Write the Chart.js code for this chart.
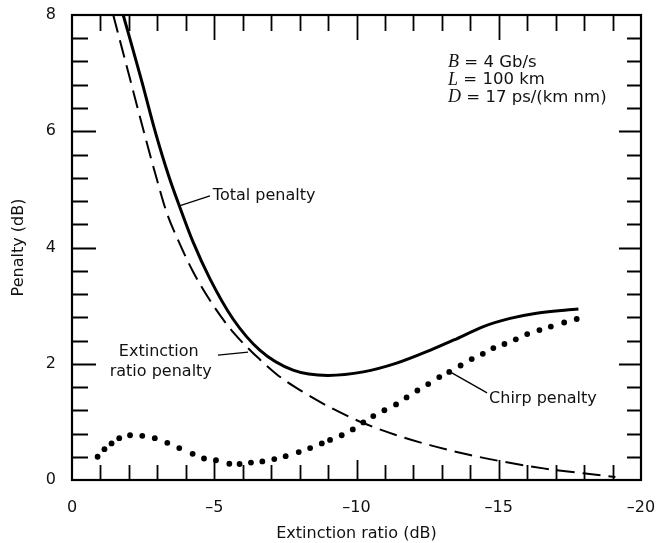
<!DOCTYPE html>
<html>
<head>
<meta charset="utf-8">
<script src="https://cdn.jsdelivr.net/npm/chart.js@4.4.1/dist/chart.umd.min.js"></script>
<style>
html,body{margin:0;padding:0;background:#fff;}
#wrap{width:659px;height:543px;position:relative;}
</style>
</head>
<body>
<div id="wrap"><canvas id="c" width="659" height="543"></canvas></div>
<script>
// ---- Data ----
const totalX = [-1.8, -2.43, -2.91, -3.4, -3.8, -4.25, -4.85, -5.66, -6.61, -7.77, -9.0, -10.24, -11.41, -12.58, -13.52, -14.46, -15.4, -16.33, -17.8];
const totalY = [8.0, 6.90, 6.02, 5.23, 4.68, 4.10, 3.46, 2.77, 2.23, 1.89, 1.80, 1.86, 2.01, 2.23, 2.43, 2.64, 2.78, 2.87, 2.94];

const extX = [-1.45, -2.05, -2.51, -2.99, -3.33, -3.80, -4.26, -4.97, -5.67, -6.61, -7.19, -8.1, -9.07, -10.24, -11.41, -12.58, -13.99, -15.16, -16.57, -17.97, -19.1];
const extY = [8.0, 6.88, 6.02, 5.16, 4.60, 4.05, 3.58, 3.00, 2.54, 2.07, 1.82, 1.52, 1.25, 0.98, 0.77, 0.60, 0.43, 0.315, 0.20, 0.115, 0.05];

const chirpX = [-0.90, -1.14, -1.39, -1.66, -2.04, -2.47, -2.91, -3.35, -3.77, -4.24, -4.64, -5.06, -5.53, -5.89, -6.29, -6.69, -7.11, -7.51, -7.97, -8.37, -8.78,
                -9.07, -9.48, -9.87, -10.24, -10.59, -10.98, -11.39, -11.76, -12.14, -12.52, -12.91,
                -13.26, -13.66, -14.05, -14.44, -14.81, -15.20, -15.60, -16.00, -16.43, -16.83, -17.30, -17.74];
const chirpY = [0.40, 0.53, 0.63, 0.72, 0.77, 0.76, 0.72, 0.64, 0.55, 0.45, 0.37, 0.34, 0.28, 0.275, 0.30, 0.32, 0.36, 0.41, 0.48, 0.55, 0.63,
                0.69, 0.77, 0.87, 0.99, 1.10, 1.20, 1.30, 1.42, 1.54, 1.65, 1.77,
                1.86, 1.97, 2.08, 2.17, 2.27, 2.34, 2.42, 2.51, 2.58, 2.64, 2.71, 2.77];

const xMajorLabels = [0, -5, -10, -15, -20];
const yMajorLabels = [0, 2, 4, 6, 8];
const paramLines = [["B", " = 4 Gb/s"], ["L", " = 100 km"], ["D", " = 17 ps/(km nm)"]];

const pts = (xs, ys) => xs.map((v, i) => ({x: v, y: ys[i]}));
const FONT = "'DejaVu Sans', sans-serif";

const framePlugin = {
  id: 'frame',
  afterDatasetsDraw(chart) {
    const {ctx, chartArea: a, scales: {x, y}} = chart;
    ctx.save();
    ctx.strokeStyle = '#000';
    ctx.lineCap = 'butt';
    ctx.lineWidth = 1.8;
    x.ticks.forEach(t => {
      const v = t.value;
      if (v === 0 || v === -20) return;
      const px = Math.round(x.getPixelForValue(v)) + 0.5;
      const major = xMajorLabels.includes(Math.round(v));
      ctx.beginPath();
      ctx.moveTo(px, a.bottom); ctx.lineTo(px, a.bottom - (major ? 20 : 15));
      ctx.moveTo(px, a.top); ctx.lineTo(px, a.top + (major ? 25 : 16));
      ctx.stroke();
    });
    y.ticks.forEach(t => {
      const v = t.value;
      if (v < 0.01 || v > 7.99) return;
      const py = Math.round(y.getPixelForValue(v)) + 0.5;
      const major = yMajorLabels.some(m => Math.abs(m - v) < 1e-6);
      ctx.beginPath();
      ctx.moveTo(a.left, py); ctx.lineTo(a.left + (major ? 24 : 16), py);
      ctx.moveTo(a.right, py); ctx.lineTo(a.right - (major ? 22 : 14), py);
      ctx.stroke();
    });
    ctx.lineWidth = 2.2;
    ctx.strokeRect(a.left, a.top, a.right - a.left, a.bottom - a.top);

    const X = v => x.getPixelForValue(v), Y = v => y.getPixelForValue(v);
    ctx.fillStyle = '#111';
    ctx.font = "16px " + FONT;
    ctx.textBaseline = 'middle';
    ctx.lineWidth = 1.3;
    ctx.beginPath(); ctx.moveTo(X(-3.80), Y(4.72)); ctx.lineTo(X(-4.85), Y(4.89)); ctx.stroke();
    ctx.textAlign = 'left';
    ctx.fillText('Total penalty', X(-4.95), Y(4.89));
    ctx.beginPath(); ctx.moveTo(X(-5.13), Y(2.15)); ctx.lineTo(X(-6.19), Y(2.20)); ctx.stroke();
    ctx.textAlign = 'center';
    ctx.fillText('Extinction', X(-3.05), Y(2.20));
    ctx.fillText('ratio penalty', X(-3.12), Y(1.86));
    ctx.beginPath(); ctx.moveTo(X(-13.29), Y(1.86)); ctx.lineTo(X(-14.59), Y(1.50)); ctx.stroke();
    ctx.textAlign = 'left';
    ctx.fillText('Chirp penalty', X(-14.66), Y(1.39));
    const py0 = [7.18, 6.88, 6.58];
    paramLines.forEach((ln, i) => {
      const x0 = X(-13.22), yy = Y(py0[i]);
      ctx.font = "italic 18px 'Liberation Serif', serif";
      ctx.fillText(ln[0], x0, yy);
      const w = ctx.measureText(ln[0]).width;
      ctx.font = "16.5px " + FONT;
      ctx.fillText(ln[1], x0 + w, yy);
    });
    ctx.restore();
  }
};

new Chart(document.getElementById('c'), {
  type: 'scatter',
  data: {
    datasets: [
      { label: 'Total penalty', data: pts(totalX, totalY), showLine: true, borderColor: '#000', borderWidth: 3,
        pointRadius: 0, cubicInterpolationMode: 'monotone', fill: false },
      { label: 'Extinction ratio penalty', data: pts(extX, extY), showLine: true, borderColor: '#000', borderWidth: 2,
        borderDash: [18, 8], pointRadius: 0, cubicInterpolationMode: 'monotone', fill: false },
      { label: 'Chirp penalty', data: pts(chirpX, chirpY), showLine: false, pointRadius: 2.9,
        pointBackgroundColor: '#000', pointBorderWidth: 0, pointStyle: 'circle' }
    ]
  },
  options: {
    responsive: false,
    animation: false,
    devicePixelRatio: 1,
    layout: { padding: { top: 15, right: 18, left: 0, bottom: 0 } },
    plugins: { legend: { display: false }, tooltip: { enabled: false } },
    scales: {
      x: {
        type: 'linear', min: -20, max: 0, reverse: true,
        grid: { display: false }, border: { display: false },
        ticks: {
          stepSize: 1, color: '#111', padding: 10, font: { family: FONT, size: 16 },
          maxRotation: 0, autoSkip: false,
          callback: v => xMajorLabels.includes(v) ? (v === 0 ? '0' : '\u2013' + Math.abs(v)) : ''
        },
        title: { display: true, text: 'Extinction ratio (dB)', color: '#111', font: { family: FONT, size: 16 }, padding: { top: 0, bottom: 0 } },
        afterFit: s => { s.height = 63; s.paddingLeft = 0; s.paddingRight = 0; }
      },
      y: {
        type: 'linear', min: 0, max: 8,
        grid: { display: false }, border: { display: false },
        ticks: {
          stepSize: 0.4, color: '#111', padding: 8, font: { family: FONT, size: 16 }, autoSkip: false,
          callback: v => yMajorLabels.some(m => Math.abs(m - v) < 1e-6) ? String(Math.round(v)) : ''
        },
        title: { display: true, text: 'Penalty (dB)', color: '#111', font: { family: FONT, size: 16 }, padding: { top: 9, bottom: 0 } },
        afterFit: s => { s.width = 72; s.paddingTop = 0; s.paddingBottom = 0; }
      }
    }
  },
  plugins: [framePlugin]
});
</script>
</body>
</html>
